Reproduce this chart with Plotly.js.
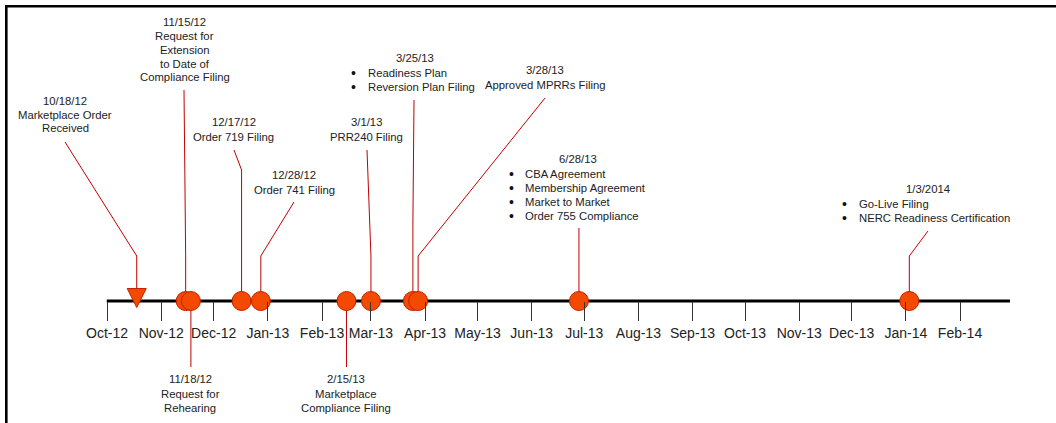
<!DOCTYPE html>
<html><head><meta charset="utf-8">
<script src="https://cdn.plot.ly/plotly-3.0.1.min.js"></script>
<style>html,body{margin:0;padding:0;background:#fff;overflow:hidden}#chart{width:1056px;height:423px}</style>
</head><body><div id="chart"></div>
<script>
// ---------------- data ----------------
const eventDates = ['2012-10-18','2012-11-15','2012-11-18','2012-12-17','2012-12-28','2013-02-15','2013-03-01','2013-03-25','2013-03-28','2013-06-28','2014-01-03'];
const eventTitles = ['10/18/12','11/15/12','11/18/12','12/17/12','12/28/12','2/15/13','3/1/13','3/25/13','3/28/13','6/28/13','1/3/2014'];
const eventDetails = [
  ['Marketplace Order','Received'],
  ['Request for','Extension','to Date of','Compliance Filing'],
  ['Request for','Rehearing'],
  ['Order 719 Filing'],
  ['Order 741 Filing'],
  ['Marketplace','Compliance Filing'],
  ['PRR240 Filing'],
  ['Readiness Plan','Reversion Plan Filing'],
  ['Approved MPRRs Filing'],
  ['CBA Agreement','Membership Agreement','Market to Market','Order 755 Compliance'],
  ['Go-Live Filing','NERC Readiness Certification']
];
const eventBulleted = [false,false,false,false,false,false,false,true,false,true,true];
const eventIsTriangle = [true,false,false,false,false,false,false,false,false,false,false];
const monthTickDates = ['2012-10-01','2012-11-01','2012-12-01','2013-01-01','2013-02-01','2013-03-01','2013-04-01','2013-05-01','2013-06-01','2013-07-01','2013-08-01','2013-09-01','2013-10-01','2013-11-01','2013-12-01','2014-01-01','2014-02-01'];
const monthTickLabels = ['Oct-12','Nov-12','Dec-12','Jan-13','Feb-13','Mar-13','Apr-13','May-13','Jun-13','Jul-13','Aug-13','Sep-13','Oct-13','Nov-13','Dec-13','Jan-14','Feb-14'];
const timelineSpan = ['2012-09-30 20:30','2014-03-01 14:00'];

// ---------------- layout config (pixel positions of labels / leader bends) ----------------
const W = 1056, H = 423, AXIS_PY = 301;
const xRange = ['2012-07-31 18:52','2014-03-27 22:00'];
const labelLayout = [
  {tx:65,   ty:101, lx:65,   ly:[115,128],            leader:[[null,256],[65,142]]},
  {tx:184.5,ty:22,  lx:184.5,ly:[36,50,63.5,77],      leader:[[null,256],[184,90]]},
  {tx:190,  ty:379, lx:190,  ly:[394,408],            leader:[[null,367]]},
  {tx:233.5,ty:122, lx:233.5,ly:[137],                leader:[[null,170],[234,150]]},
  {tx:294,  ty:175, lx:294,  ly:[190],                leader:[[null,256],[294,202]]},
  {tx:346,  ty:379, lx:346,  ly:[394,408],            leader:[[null,367]]},
  {tx:366,  ty:122, lx:366,  ly:[137],                leader:[[null,256],[367,150]]},
  {tx:415,  ty:58,  bx:353, lx:366, ly:[73,87],       leader:[[null,224],[414,100]]},
  {tx:545,  ty:70,  lx:545,  ly:[85],                 leader:[[null,256],[545,98]]},
  {tx:578,  ty:159, bx:511, lx:523, ly:[174,188,202,216], leader:[[null,228]]},
  {tx:928,  ty:189, bx:844, lx:857, ly:[204,218],     leader:[[null,256],[928,231]]}
];

const ms0 = Date.parse(xRange[0].replace(' ','T')+':00Z');
const ms1 = Date.parse(xRange[1].replace(' ','T')+':00Z');
function pxToDate(px){ return new Date(ms0 + px/W*(ms1-ms0)).toISOString().replace('T',' ').replace('Z',''); }
function pyToY(py){ return AXIS_PY - py; }

const RED = '#c00000';
const FONT = 'Arial, "Liberation Sans", sans-serif';
const traces = [];
const annotations = [];

eventDates.forEach((d,i)=>{
  const L = labelLayout[i];
  const xs=[d], ys=[0];
  L.leader.forEach(p=>{ xs.push(p[0]===null ? d : pxToDate(p[0])); ys.push(pyToY(p[1])); });
  traces.push({type:'scatter',mode:'lines',x:xs,y:ys,line:{color:RED,width:1},hoverinfo:'skip',showlegend:false});
  annotations.push({x:pxToDate(L.tx),y:pyToY(L.ty),xref:'x',yref:'y',text:eventTitles[i],showarrow:false,
    xanchor:'center',yanchor:'middle',font:{family:FONT,size:11.3,color:'#222'}});
  eventDetails[i].forEach((t,j)=>{
    if(eventBulleted[i]){
      annotations.push({x:pxToDate(L.bx),y:pyToY(L.ly[j]),xref:'x',yref:'y',text:'•',showarrow:false,
        xanchor:'center',yanchor:'middle',font:{family:FONT,size:14,color:'#111'}});
      annotations.push({x:pxToDate(L.lx),y:pyToY(L.ly[j]),xref:'x',yref:'y',text:t,showarrow:false,
        xanchor:'left',yanchor:'middle',font:{family:FONT,size:11.3,color:'#222'}});
    } else {
      annotations.push({x:pxToDate(L.lx),y:pyToY(L.ly[j]),xref:'x',yref:'y',text:t,showarrow:false,
        xanchor:'center',yanchor:'middle',font:{family:FONT,size:11.3,color:'#222'}});
    }
  });
});

// timeline bar
traces.push({type:'scatter',mode:'lines',x:timelineSpan,y:[0,0],line:{color:'#000',width:3},hoverinfo:'skip',showlegend:false});

// circle markers
const cx=[],cy=[];
eventDates.forEach((d,i)=>{ if(!eventIsTriangle[i]){cx.push(d);cy.push(0);} });
traces.push({type:'scatter',mode:'markers',x:cx,y:cy,cliponaxis:false,
  marker:{symbol:'circle',size:19,color:'#f34a00',line:{color:'#c41e00',width:1}},hoverinfo:'skip',showlegend:false});
// triangle markers (drawn on an overlay axis so the arrow body straddles the timeline)
const tx=[],ty=[];
eventDates.forEach((d,i)=>{ if(eventIsTriangle[i]){tx.push(d);ty.push(0);} });
traces.push({type:'scatter',mode:'markers',x:tx,y:ty,yaxis:'y2',cliponaxis:false,
  marker:{symbol:'arrow-down',size:19,color:'#f34a00',line:{color:'#c41e00',width:1}},hoverinfo:'skip',showlegend:false});

const layout = {
  width:W,height:H,margin:{l:0,r:0,t:0,b:0},
  paper_bgcolor:'#fff',plot_bgcolor:'rgba(0,0,0,0)',showlegend:false,
  xaxis:{type:'date',range:xRange,anchor:'free',position:(H-AXIS_PY)/H,
    tickmode:'array',tickvals:monthTickDates,ticktext:monthTickLabels,
    ticks:'outside',ticklen:19,tickwidth:1,tickcolor:'#333',
    showgrid:false,zeroline:false,showline:false,fixedrange:true,
    tickfont:{family:FONT,size:14,color:'#222'}},
  yaxis:{range:[AXIS_PY-H, AXIS_PY],visible:false,showgrid:false,zeroline:false,fixedrange:true},
  yaxis2:{overlaying:'y',domain:[0,(H-9)/H],range:[AXIS_PY-H+9, AXIS_PY],visible:false,showgrid:false,zeroline:false,fixedrange:true},
  annotations:annotations,
  shapes:[{type:'rect',xref:'paper',yref:'paper',x0:6.3/W,x1:1.02,y0:-0.02,y1:1-6.3/H,line:{color:'#000',width:2.6},fillcolor:'rgba(0,0,0,0)'}]
};
Plotly.newPlot('chart',traces,layout,{displayModeBar:false,staticPlot:true});
</script></body></html>
